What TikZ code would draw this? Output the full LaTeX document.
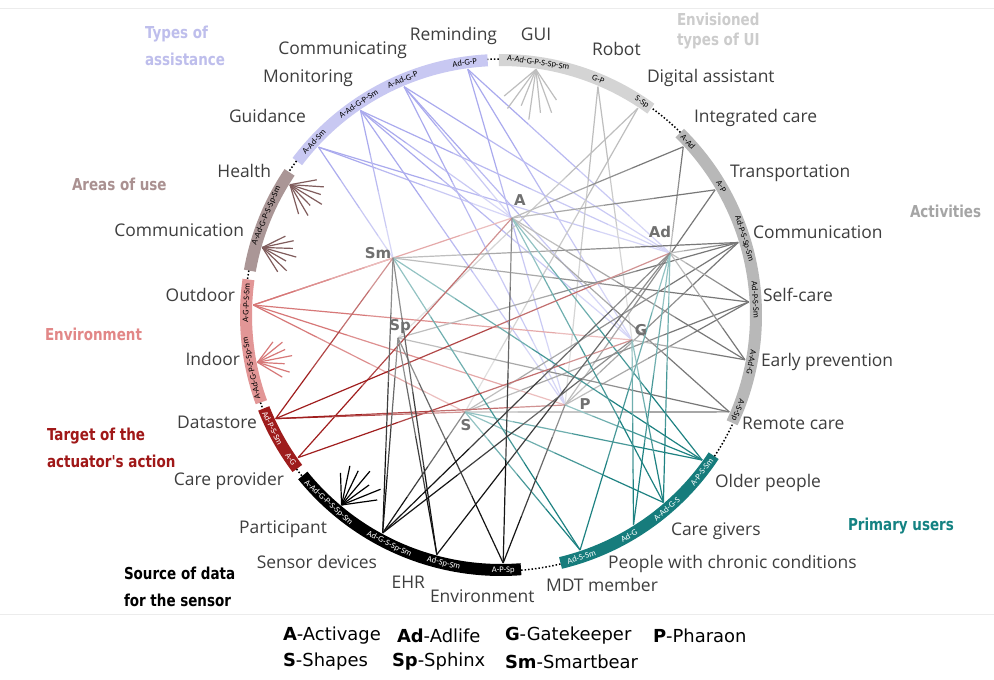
\documentclass[tikz,border=0pt]{standalone}
\usepackage{fontspec}
\setmainfont{Open Sans}
\newfontfamily\ttlfont{DejaVu Sans}[FakeStretch=0.82]
\newfontfamily\legfont{DejaVu Sans}
\newfontfamily\bandfont{Carlito}
\usetikzlibrary{calc}
\definecolor{cTypes}{RGB}{200,200,242}
\definecolor{cTypesL}{RGB}{170,170,238}
\definecolor{cUI}{RGB}{212,212,212}
\definecolor{cUIL}{RGB}{190,190,190}
\definecolor{cAct}{RGB}{184,184,184}
\definecolor{cActL}{RGB}{120,120,120}
\definecolor{cPrim}{RGB}{22,124,124}
\definecolor{cPrimL}{RGB}{30,130,130}
\definecolor{cSrcL}{RGB}{20,20,20}
\definecolor{cTarg}{RGB}{158,28,28}
\definecolor{cTargL}{RGB}{160,30,30}
\definecolor{cEnv}{RGB}{226,150,150}
\definecolor{cEnvL}{RGB}{215,120,120}
\definecolor{cArea}{RGB}{170,150,150}
\definecolor{cAreaL}{RGB}{128,92,92}
\definecolor{cTxt}{RGB}{62,62,62}
\definecolor{cProj}{RGB}{112,112,112}
\definecolor{tTypes}{RGB}{190,190,236}
\definecolor{tUI}{RGB}{204,204,204}
\definecolor{tArea}{RGB}{170,145,145}
\definecolor{tAct}{RGB}{165,165,165}
\definecolor{tEnv}{RGB}{226,135,135}
\definecolor{tTarg}{RGB}{160,24,24}
\definecolor{tPrim}{RGB}{20,130,130}
\begin{document}
\begin{tikzpicture}[x=1bp,y=1bp,
  every node/.style={inner sep=0pt,outer sep=0pt},
  lab/.style={font=\fontsize{17.5}{20}\selectfont,text=cTxt},
  ttl/.style={font=\ttlfont\bfseries\fontsize{16.5}{27}\selectfont,align=left,anchor=west},
  bt/.style={font=\bandfont\fontsize{8.6}{9}\selectfont},
  projlab/.style={font=\legfont\bfseries\fontsize{15}{16}\selectfont,text=cProj},
  leg/.style={font=\legfont\fontsize{18}{20}\selectfont,anchor=west},
  bandarc/.style={line width=12bp},
  gapdots/.style={line width=1.5bp,dotted},
  conn/.style={line width=1.2bp}]
\useasboundingbox (0,0) rectangle (994,680);
\fill[white] (0,0) rectangle (994,680);
\draw[gray!15,line width=1bp] (0,671) -- (994,671);
\draw[gray!15,line width=1bp] (0,65) -- (994,65);

\begin{scope}[shift={(501,365)}]
  % project hubs
  \coordinate (A) at (11,97);
  \coordinate (Ad) at (169,62);
  \coordinate (Sm) at (-108,57);
  \coordinate (Sp) at (-103,-23);
  \coordinate (G) at (131,-25);
  \coordinate (P) at (64,-90);
  \coordinate (S) at (-36,-97);
  % band anchor points
  \foreach \n/\a in {guid/137.4,moni/124.5,comm/113,remi/97.7,gui/81.9,robot/67,digi/56.5,
    integ/42.7,trans/30.3,commA/17,self/3,early/-10.4,remote/-23,
    older/-35.8,givers/-49.1,chronic/-57.7,mdt/-71.4,
    envS/-89.5,ehr/-105,sensor/-118.5,partic/-130,
    carep/-144.9,datas/-155.3,indoor/-169,outdoor/177.7,commL/164.2,health/148.3}
    \coordinate (\n) at (\a:248);

  % connectors, fading from the band towards the hub
  \foreach \s/\ts/\c in {guid/{A,Ad,Sm}/cTypesL,moni/{A,Ad,G,P,Sm}/cTypesL,comm/{A,Ad,G,P}/cTypesL,remi/{Ad,G,P}/cTypesL,
     robot/{G,P}/cUIL,digi/{S,Sp}/cUIL,
     outdoor/{A,G,P,S,Sm}/cEnvL,
     integ/{A,Ad}/cActL,trans/{A,P}/cActL,commA/{Ad,P,S,Sp,Sm}/cActL,self/{Ad,P,S,Sm}/cActL,early/{A,Ad,G}/cActL,remote/{A,S,Sp}/cActL,
     older/{A,P,S,Sm}/cPrimL,givers/{A,Ad,G,S}/cPrimL,chronic/{Ad,G}/cPrimL,mdt/{Ad,S,Sm}/cPrimL,
     carep/{A,G}/cTargL,datas/{Ad,P,S,Sm}/cTargL,
     envS/{A,P,Sp}/cSrcL,ehr/{Ad,Sp,Sm}/cSrcL,sensor/{Ad,G,S,Sp,Sm}/cSrcL}
    {\foreach \t in \ts {
       \draw[conn,draw=\c] (\s) -- ($(\s)!0.3!(\t)$);
       \draw[conn,draw=\c!82!white] ($(\s)!0.3!(\t)$) -- ($(\s)!0.55!(\t)$);
       \draw[conn,draw=\c!64!white] ($(\s)!0.55!(\t)$) -- ($(\s)!0.8!(\t)$);
       \draw[conn,draw=\c!48!white] ($(\s)!0.8!(\t)$) -- (\t);}}

  % star bursts (all projects)
  \foreach \n/\a/\c/\l in {gui/81.9/cUIL/46,partic/-130/black/40,indoor/-169/cEnvL/32,commL/164.2/cAreaL/32,health/148.3/cAreaL/34}
    {\foreach \k/\f in {-42/0.9,-28/1.05,-14/0.85,0/1.1,14/0.95,28/1.0,42/0.8}
      {\pgfmathsetmacro\len{\l*\f}
       \draw[conn,draw=\c] (\n) -- ++(\a+180+\k:\len);}}

  % bands
  \draw[bandarc,cTypes] (93:255) arc[start angle=93,end angle=143,radius=255];
  \draw[bandarc,cArea] (146:255) arc[start angle=146,end angle=170,radius=255];
  \draw[bandarc,cEnv] (172:255) arc[start angle=172,end angle=200,radius=255];
  \draw[bandarc,cTarg] (201.5:255) arc[start angle=201.5,end angle=217,radius=255];
  \draw[bandarc,black] (219:255) arc[start angle=219,end angle=274.5,radius=255];
  \draw[bandarc,cPrim] (283.5:255) arc[start angle=283.5,end angle=326.5,radius=255];
  \draw[bandarc,cAct] (335:255) arc[start angle=335,end angle=405.5,radius=255];
  \draw[bandarc,cUI] (54:255) arc[start angle=54,end angle=90.5,radius=255];
  % dotted gaps
  \foreach \a/\b in {90.5/93,143/146,170/172,200/201.5,217/219,274.5/283.5,326.5/335,405.5/414}
    \draw[gapdots] (\a:256) arc[start angle=\a,end angle=\b,radius=256];

  % band texts
  \foreach \i/\a/\r/\t/\c in {
     1/137.2/47.2/A-Ad-Sm/black, 2/124/34/A-Ad-G-P-Sm/black, 3/112.7/22.7/A-Ad-G-P/black, 4/98.2/8.2/Ad-G-P/black,
     5/81.6/-8.4/A-Ad-G-P-S-Sp-Sm/black, 6/67.6/-22.4/G-P/black, 7/56.5/-33.5/S-Sp/black,
     8/42.8/-47.2/A-Ad/black, 9/30.3/-59.7/A-P/black, 10/17.4/-72.6/Ad-P-S-Sp-Sm/black, 11/3.4/-86.6/Ad-P-S-Sm/black,
     12/-10.7/-100.7/A-Ad-G/black, 13/-21.8/-111.8/A-S-Sp/black,
     14/-38/52/A-P-S-Sm/white, 15/-49.5/40.5/A-Ad-G-S/white, 16/-59.9/30.1/Ad-G/white, 17/-71.6/18.4/Ad-S-Sm/white,
     18/-89.5/0.5/A-P-Sp/white, 19/-103/-13/Ad-Sp-Sm/white, 20/-116/-26/Ad-G-S-Sp-Sm/white, 21/-132.6/-42.6/A-Ad-G-P-S-Sp-Sm/white,
     22/-145.5/-55.5/A-G/white, 23/-153.6/-63.6/Ad-P-S-Sm/white,
     24/-167.9/102.1/A-Ad-G-P-S-Sp-Sm/black, 25/177.3/87.3/A-G-P-S-Sm/black,
     26/157/67/A-Ad-G-P-S-Sp-Sm/black}
    \node[bt,text=\c,rotate=\r] (bt\i) at (\a:255) {\t};
\end{scope}

% project labels
\node[projlab] (Alab) at (520,480) {A};
\node[projlab] (Adlab) at (660,448) {Ad};
\node[projlab] (Smlab) at (378,427) {Sm};
\node[projlab] (Splab) at (400,353) {Sp};
\node[projlab] (Glab) at (641,350) {G};
\node[projlab] (Plab) at (585,276) {P};
\node[projlab] (Slab) at (466,255) {S};

% item labels
\node[lab,anchor=mid east] (lGuid) at (306,560) {Guidance};
\node[lab,anchor=mid east] (lMoni) at (353,600) {Monitoring};
\node[lab,anchor=mid east] (lComm) at (407,628) {Communicating};
\node[lab,anchor=mid east] (lRemi) at (497,642) {Reminding};
\node[lab,anchor=mid] (lGUI) at (536,642) {GUI};
\node[lab,anchor=mid west] (lRobot) at (592,627) {Robot};
\node[lab,anchor=mid west] (lDigi) at (647,600) {Digital assistant};
\node[lab,anchor=mid west] (lInteg) at (694,560) {Integrated care};
\node[lab,anchor=mid west] (lTrans) at (730,505) {Transportation};
\node[lab,anchor=mid west] (lCommA) at (753,444) {Communication};
\node[lab,anchor=mid west] (lSelf) at (763,381) {Self-care};
\node[lab,anchor=mid west] (lEarly) at (761,316) {Early prevention};
\node[lab,anchor=mid west] (lRemote) at (742,253) {Remote care};
\node[lab,anchor=mid west] (lOlder) at (715,195) {Older people};
\node[lab,anchor=mid west] (lGivers) at (671,147) {Care givers};
\node[lab,anchor=mid west] (lChron) at (608,114) {People with chronic conditions};
\node[lab,anchor=mid west] (lMDT) at (546,91) {MDT member};
\node[lab,anchor=mid west] (lEnvS) at (430,80) {Environment};
\node[lab,anchor=mid east] (lEHR) at (425,94) {EHR};
\node[lab,anchor=mid east] (lSensor) at (377,114) {Sensor devices};
\node[lab,anchor=mid east] (lPartic) at (327,149) {Participant};
\node[lab,anchor=mid east] (lCareP) at (284,197) {Care provider};
\node[lab,anchor=mid east] (lData) at (257,254) {Datastore};
\node[lab,anchor=mid east] (lIndoor) at (240,317) {Indoor};
\node[lab,anchor=mid east] (lOutdoor) at (235,381) {Outdoor};
\node[lab,anchor=mid east] (lCommL) at (244,446) {Communication};
\node[lab,anchor=mid east] (lHealth) at (271,505) {Health};

% category titles
\node[ttl,text=tTypes] (tTypesN) at (145,634) {Types of\\assistance};
\node[ttl,text=tUI,font=\ttlfont\bfseries\fontsize{16.5}{21}\selectfont] (tUIN) at (677,649) {Envisioned\\types of UI};
\node[ttl,text=tArea] (tAreaN) at (72,496) {Areas of use};
\node[ttl,text=tAct] (tActN) at (910,469) {Activities};
\node[ttl,text=tEnv] (tEnvN) at (45,346) {Environment};
\node[ttl,text=tTarg] (tTargN) at (47,232) {Target of the\\actuator's action};
\node[ttl,text=tPrim] (tPrimN) at (848,154) {Primary users};
\node[ttl,text=black] (tSrcN) at (124,93) {Source of data\\for the sensor};

% legend
\node[leg] (lg1) at (283,44) {\textbf{A}-Activage};
\node[leg] (lg2) at (397,44) {\textbf{Ad}-Adlife};
\node[leg] (lg3) at (505,44) {\textbf{G}-Gatekeeper};
\node[leg] (lg4) at (653,44) {\textbf{P}-Pharaon};
\node[leg] (lg5) at (283,18) {\textbf{S}-Shapes};
\node[leg] (lg6) at (392,18) {\textbf{Sp}-Sphinx};
\node[leg] (lg7) at (505,18) {\textbf{Sm}-Smartbear};
\end{tikzpicture}
\end{document}
